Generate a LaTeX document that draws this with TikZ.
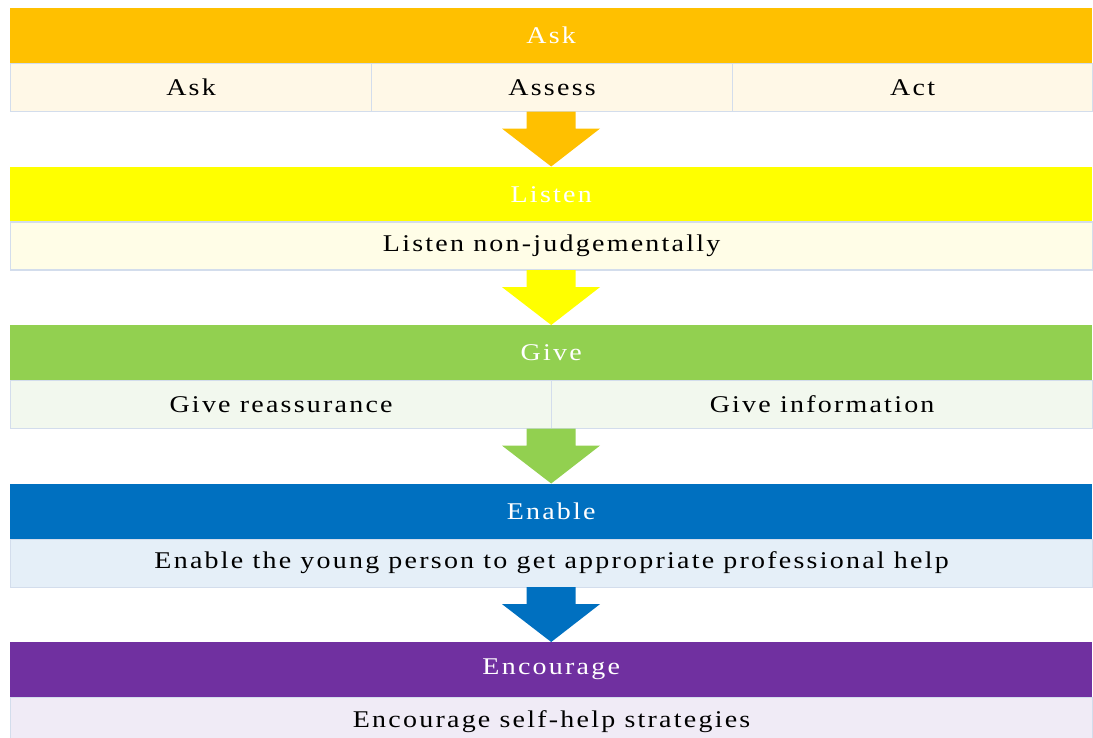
\documentclass[tikz,border=0pt]{standalone}
\usepackage{fontspec}
\setmainfont[LetterSpace=8]{Liberation Serif}
\usetikzlibrary{calc}
\definecolor{cAsk}{HTML}{FFC000}
\definecolor{cListen}{HTML}{FFFF00}
\definecolor{cGive}{HTML}{92D050}
\definecolor{cEnable}{HTML}{0070C0}
\definecolor{cEnc}{HTML}{7030A0}
\definecolor{sAsk}{HTML}{FFF8E7}
\definecolor{sListen}{HTML}{FFFDE7}
\definecolor{sGive}{HTML}{F2F8EE}
\definecolor{sEnable}{HTML}{E5EFF8}
\definecolor{sEnc}{HTML}{F0EBF6}
\definecolor{cellline}{HTML}{D3DDEC}
\newcommand{\wt}[1]{\scalebox{1.165}[1]{#1}}
\tikzset{
  x=1pt, y=-1pt,
  header/.style={anchor=north west, inner sep=0pt, minimum height=55pt, text=white, font=\fontsize{24}{27}\selectfont},
  cell/.style={anchor=north west, inner sep=0pt, minimum height=48pt, draw=cellline, line width=1.2pt, text=black, font=\fontsize{24}{27}\selectfont},
}
\newcommand{\barrow}[3]{%
  \fill[#3] ($(#1)+(-24.5,0)$) -- ($(#1)+(24.5,0)$) -- ($(#1)+(24.5,17)$) -- ($(#1)+(49,17)$) -- (#2.north) -- ($(#1)+(-49,17)$) -- ($(#1)+(-24.5,17)$) -- cycle;}
\begin{document}
\begin{tikzpicture}
\useasboundingbox (0,0) rectangle (1093,738);
% Band 1
\node[header, fill=cAsk, minimum width=1082pt] (h1) at (10,8) {\wt{Ask}};
\node[cell, fill=sAsk, minimum width=361pt] (c11) at (10,63) {\wt{Ask}};
\node[cell, fill=sAsk, minimum width=361pt] (c12) at (371,63) {\wt{Assess}};
\node[cell, fill=sAsk, minimum width=360pt] (c13) at (732,63) {\wt{Act}};
\coordinate (b1) at (551,111.6);
% Band 2
\node[header, fill=cListen, minimum width=1082pt] (h2) at (10,166.5) {\wt{Listen}};
\node[cell, fill=sListen, minimum width=1082pt] (c21) at (10,221.5) {\wt{Listen non-judgementally}};
\coordinate (b2) at (551,270.1);
% Band 3
\node[header, fill=cGive, minimum width=1082pt] (h3) at (10,325) {\wt{Give}};
\node[cell, fill=sGive, minimum width=541pt] (c31) at (10,380) {\wt{Give reassurance}};
\node[cell, fill=sGive, minimum width=541pt] (c32) at (551,380) {\wt{Give information}};
\coordinate (b3) at (551,428.6);
% Band 4
\node[header, fill=cEnable, minimum width=1082pt] (h4) at (10,483.5) {\wt{Enable}};
\node[cell, fill=sEnable, minimum width=1082pt] (c41) at (10,538.5) {\wt{Enable the young person to get appropriate professional help}};
\coordinate (b4) at (551,587.1);
% Band 5
\node[header, fill=cEnc, minimum width=1082pt] (h5) at (10,642) {\wt{Encourage}};
\node[cell, fill=sEnc, minimum width=1082pt] (c51) at (10,697) {\wt{Encourage self-help strategies}};
% Arrows
\barrow{b1}{h2}{cAsk}
\barrow{b2}{h3}{cListen}
\barrow{b3}{h4}{cGive}
\barrow{b4}{h5}{cEnable}
\end{tikzpicture}
\end{document}
